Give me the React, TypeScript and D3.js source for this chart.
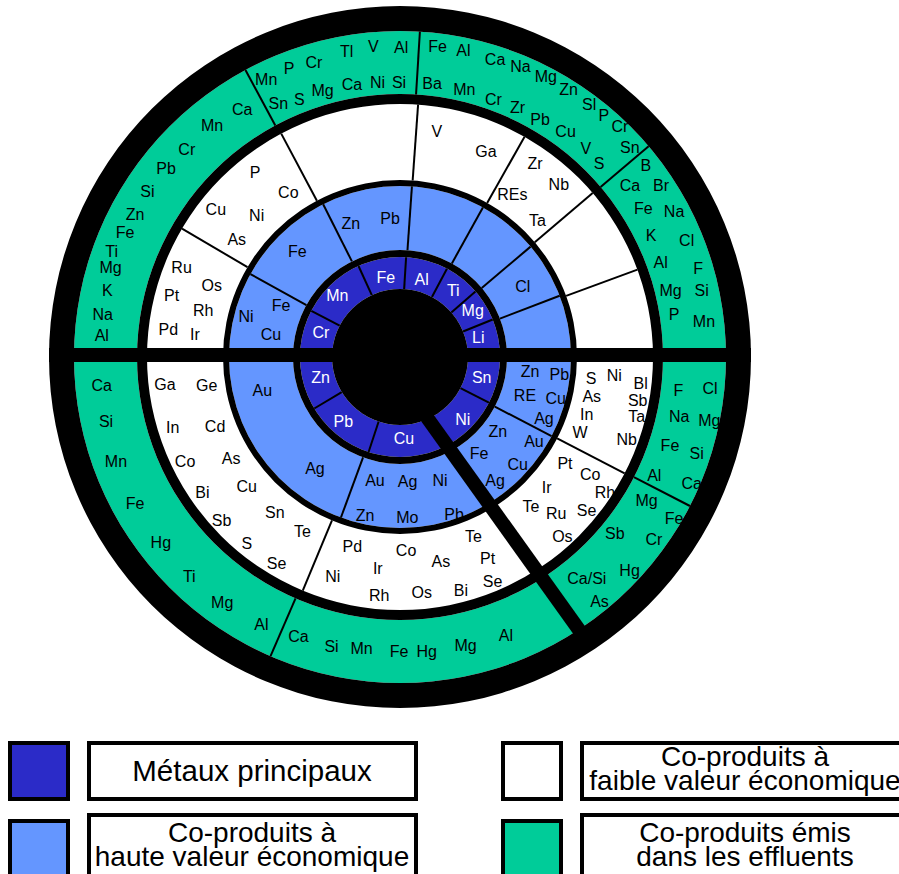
import React from 'react';
import * as d3 from 'd3';

type Lbl = [string, number, number]; // element, angle (deg, clockwise from 12 o'clock), radius

// ---- categories / legend ----
const categoryLines: string[][] = [
  ['Métaux principaux'],
  ['Co-produits à', 'haute valeur économique'],
  ['Co-produits à', 'faible valeur économique'],
  ['Co-produits émis', 'dans les effluents'],
];
const categoryColors = ['#2b2bc8', '#6496ff', '#ffffff', '#00cc99'];

// ---- ring separators (angles in degrees) ----
const principalSeparators = [297.5, 335.5, 3.5, 28, 49, 68, 117.2, 198.3, 239];
const highSeparators = [299, 333.3, 4, 29, 49.8, 69, 117.6, 200.2];
const lowSeparators = [300.5, 332, 4.1, 29.5, 49.6, 69.8, 117.4, 202.6];
const effluentSeparators = [331.7, 3.5, 49.7, 117.2, 203.4];
const mainDividers = [90, 270];
const heavyDivider: [number, number] = [156, 146.7];

// ---- labels ----
const principalLabels: Lbl[] = [
  ['Cr', 287.1, 82.7], ['Mn', 314.4, 87.7], ['Fe', 349.8, 80.6], ['Al', 15.5, 81],
  ['Ti', 38.5, 85.6], ['Mg', 57.1, 86.6], ['Li', 75.9, 80.7], ['Sn', 104.2, 84.3],
  ['Ni', 134.7, 88.2], ['Cu', 177.2, 81.4], ['Pb', 221.2, 86], ['Zn', 255.6, 81.9],
];

const highLabels: Lbl[] = [
  ['Fe', 315.9, 147.6], ['Ni', 284.7, 159.2], ['Fe', 293.6, 129.9], ['Cu', 280, 131],
  ['Zn', 339.8, 142.5], ['Pb', 355.9, 139.1], ['Cl', 60.2, 141.4],
  ['Au', 256.5, 141.6], ['Ag', 217.4, 140],
  ['Au', 191.5, 125.5], ['Ag', 176.5, 124.9], ['Ni', 162.1, 130],
  ['Zn', 192.5, 161.8], ['Mo', 177.4, 160.9], ['Pb', 161, 166],
  ['Zn', 127.1, 122.6], ['Au', 122.3, 158.5], ['Fe', 140.6, 124.6], ['Cu', 132.5, 159.7], ['Ag', 142.3, 155.4],
  ['Zn', 96.4, 130.8], ['Pb', 96.4, 160.3], ['RE', 106.9, 130.6], ['Cu', 104.9, 161.1], ['Ag', 113.1, 156.5],
];

const lowLabels: Lbl[] = [
  ['Ru', 292.2, 235.9], ['Os', 290.7, 201.2], ['Pt', 285, 236.4], ['Rh', 283.2, 202.1], ['Pd', 276.9, 233.4], ['Ir', 276.4, 206.3],
  ['Cu', 308.7, 236], ['Ni', 314.6, 201.3], ['As', 305.8, 201.3], ['Co', 325.8, 198.7], ['P', 321.8, 234.5],
  ['V', 9.3, 228.3], ['Ga', 22.7, 222.5],
  ['Zr', 34.9, 236.1], ['Nb', 42.7, 234.2], ['REs', 34.6, 197.9], ['Ta', 45.1, 194.2],
  ['S', 96.4, 192.2], ['Ni', 94.8, 215.1], ['Bl', 96.2, 242.1], ['As', 101.7, 195.8], ['Sb', 100.3, 241.6],
  ['In', 107.1, 195.3], ['Ta', 104.2, 244.1], ['W', 112.8, 195.3], ['Nb', 110, 241.2],
  ['Pt', 122.8, 196.3], ['Co', 121.8, 223.7], ['Ir', 131.6, 196.2], ['Rh', 123.5, 245.8],
  ['Te', 138.8, 198.9], ['Ru', 135, 220.8], ['Se', 129.5, 241.8], ['Os', 137.9, 242.2],
  ['Te', 157.8, 194.1], ['Pd', 194.1, 195.6], ['Co', 178.2, 193.8], ['As', 168.7, 208.8], ['Pt', 156.5, 219.6],
  ['Ir', 186, 212.5], ['Ni', 197, 229.8], ['Rh', 185, 238.9], ['Os', 174.7, 236.3], ['Bi', 165.4, 241.5], ['Se', 157.6, 243.1],
  ['Ga', 263.4, 236.6], ['Ge', 261.5, 195.5], ['In', 252.8, 237.9], ['Cd', 249.5, 197.4], ['Co', 244, 239.1],
  ['As', 239, 197], ['Bi', 235.5, 239.8], ['Cu', 229.8, 200.8], ['Sb', 227.6, 241.6], ['Sn', 218.8, 199.7],
  ['S', 219.4, 241.3], ['Te', 209.2, 200.2], ['Se', 210.9, 240.3],
];

const effluentLabels: Lbl[] = [
  ['Al', 274.1, 299], ['Na', 278.2, 300.4], ['K', 282.8, 300.1], ['Mg', 287.2, 302.9], ['Ti', 290.2, 307.2],
  ['Fe', 294.4, 302], ['Zn', 298.3, 301], ['Si', 303.3, 302.3], ['Pb', 308.9, 300.6], ['Cr', 314.3, 297.9],
  ['Mn', 320.9, 297.9], ['Ca', 327.5, 293.6],
  ['Mn', 334.3, 308.6], ['P', 339, 309.2], ['Cr', 343.7, 306.6], ['Tl', 350.1, 309.9], ['V', 355.1, 311.5], ['Al', 0.2, 310],
  ['Sn', 334.4, 281.4], ['S', 338.7, 277], ['Mg', 343.8, 277.3], ['Ca', 350, 277], ['Ni', 355.3, 275.2], ['Si', 359.8, 275],
  ['Fe', 6.9, 312.6], ['Al', 11.7, 312.8], ['Ca', 17.7, 312.8], ['Na', 22.5, 315], ['Mg', 27.5, 315.9],
  ['Zn', 32.2, 316.2], ['Sl', 36.8, 315.7], ['P', 40.2, 315.8], ['Cr', 43.6, 319], ['Sn', 47.6, 311.2],
  ['Ba', 6.7, 275.6], ['Mn', 13.5, 275.3], ['Cr', 19.9, 274.4], ['Zr', 25.2, 276], ['Pb', 30.5, 275.9],
  ['Cu', 36.3, 279.7], ['V', 41.7, 279.3], ['S', 45.8, 277.7],
  ['B', 52.1, 311.6], ['Ca', 53.3, 286.8], ['Br', 56.6, 312.6], ['Fe', 58.6, 285.1], ['Na', 62.1, 310.1],
  ['K', 64.2, 278.8], ['Cl', 67.9, 309.4], ['Al', 70, 277.4], ['F', 73.4, 311.2], ['Mg', 76.2, 278.7],
  ['Si', 77.6, 308.9], ['P', 81.1, 277.4], ['Mn', 83.4, 306],
  ['F', 96.9, 280.3], ['Cl', 95.8, 311.6], ['Na', 102.1, 285.6], ['Mg', 101.5, 315.7], ['Fe', 108.1, 284],
  ['Si', 108, 311.9], ['Al', 114.9, 280.3], ['Ca', 113.4, 317.9],
  ['Mg', 120.1, 285.1], ['Fe', 120.5, 318.2], ['Sb', 129.4, 278], ['Cr', 125.7, 312.7], ['Hg', 132.9, 313.4],
  ['Ca/Si', 139.8, 289.5], ['As', 140.8, 315.6],
  ['Ca', 200, 297], ['Si', 193.3, 297.6], ['Mn', 187.5, 293.8], ['Fe', 180.2, 294], ['Hg', 174.8, 295.2],
  ['Mg', 167.2, 296], ['Al', 159.2, 298],
  ['Ca', 264.6, 299.6], ['Si', 257.6, 301], ['Mn', 249.8, 302.7], ['Fe', 241.1, 302.7], ['Hg', 232.2, 302.7],
  ['Ti', 223.9, 303.9], ['Mg', 215.9, 303.2], ['Al', 207.4, 301],
];

// ---- layout ----
const W = 899, H = 874;
const CX = 400, CY = 357;
const R = { core: 68, p1: 100, h0: 107, h1: 171, l0: 177, l1: 253, e0: 263, e1: 326, out: 351 };
const FONT = 'Liberation Sans, Arial, sans-serif';

const angle = d3.scaleLinear().domain([0, 360]).range([0, 2 * Math.PI]);
const polar = (deg: number, r: number): [number, number] => {
  const a = angle(deg);
  return [CX + r * Math.sin(a), CY - r * Math.cos(a)];
};
const annulus = (r0: number, r1: number) =>
  d3.arc()({ innerRadius: r0, outerRadius: r1, startAngle: 0, endAngle: 2 * Math.PI } as any) as string;

function Ring({ r0, r1, fill }: { r0: number; r1: number; fill: string }) {
  return <path d={annulus(r0, r1)} transform={`translate(${CX},${CY})`} fill={fill} />;
}

function Labels({ items, color }: { items: Lbl[]; color: string }) {
  return (
    <g fontFamily={FONT} fontSize={16} fill={color} textAnchor="middle">
      {items.map(([t, a, r], i) => {
        const [x, y] = polar(a, r);
        return (
          <text key={i} x={x} y={y} dy="0.35em">
            {t}
          </text>
        );
      })}
    </g>
  );
}

function Separators({ angles, r0, r1 }: { angles: number[]; r0: number; r1: number }) {
  return (
    <g stroke="#000" strokeWidth={2}>
      {angles.map((a, i) => {
        const [x0, y0] = polar(a, r0);
        const [x1, y1] = polar(a, r1);
        return <line key={i} x1={x0} y1={y0} x2={x1} y2={y1} />;
      })}
    </g>
  );
}

export default function App() {
  const [hx0, hy0] = polar(heavyDivider[0], R.core - 2);
  const [hx1, hy1] = polar(heavyDivider[1], R.e1 + 4);
  const legendCols = [10, 503];
  const legendRows = [743, 815];
  return (
    <svg width={W} height={H} style={{ position: 'absolute', left: 0, top: 0, background: '#fff' }}>
      {/* ring fills */}
      <Ring r0={R.p1} r1={R.core} fill={categoryColors[0]} />
      <Ring r0={R.h0} r1={R.h1} fill={categoryColors[1]} />
      <Ring r0={R.l0} r1={R.l1} fill={categoryColors[2]} />
      <Ring r0={R.e0} r1={R.e1} fill={categoryColors[3]} />

      <Labels items={principalLabels} color="#fff" />
      <Labels items={highLabels} color="#000" />
      <Labels items={lowLabels} color="#000" />
      <Labels items={effluentLabels} color="#000" />

      {/* black bands */}
      <circle cx={CX} cy={CY} r={R.core} fill="#000" />
      <Ring r0={R.p1} r1={R.h0} fill="#000" />
      <Ring r0={R.h1} r1={R.l0} fill="#000" />
      <Ring r0={R.l1} r1={R.e0} fill="#000" />
      <Ring r0={R.e1} r1={R.out} fill="#000" />

      <Separators angles={principalSeparators} r0={R.core} r1={R.p1} />
      <Separators angles={highSeparators} r0={R.h0} r1={R.h1} />
      <Separators angles={lowSeparators} r0={R.l0} r1={R.l1} />
      <Separators angles={effluentSeparators} r0={R.e0} r1={R.e1} />

      {/* horizontal divider */}
      {(() => {
        const [x0] = polar(mainDividers[1], R.out);
        const [x1] = polar(mainDividers[0], R.out);
        return <rect x={x0} y={CY - 9} width={x1 - x0} height={14} fill="#000" />;
      })()}
      <line x1={hx0} y1={hy0} x2={hx1} y2={hy1} stroke="#000" strokeWidth={14} />

      {/* legend */}
      {categoryLines.map((lines, i) => {
        const col = Math.floor(i / 2);
        const row = i % 2;
        const bx = legendCols[col];
        const by = legendRows[row];
        const sqY = row === 0 ? by : by + 6;
        const tbH = row === 0 ? 56 : 64;
        const cxText = bx + 58 + 21 + 163;
        return (
          <g key={i}>
            <rect x={bx} y={sqY} width={58} height={56} fill={categoryColors[i]} stroke="#000" strokeWidth={4} />
            <rect x={bx + 79} y={by} width={327} height={tbH} fill="#fff" stroke="#000" strokeWidth={4} />
            <g fontFamily={FONT} textAnchor="middle" fill="#000">
              {lines.length === 1 ? (
                <text x={cxText} y={by + 38} fontSize={29.5}>{lines[0]}</text>
              ) : (
                lines.map((l, j) => (
                  <text key={j} x={cxText} y={(row === 0 ? by + 23 : by + 27) + j * 24} fontSize={28}>
                    {l}
                  </text>
                ))
              )}
            </g>
          </g>
        );
      })}
    </svg>
  );
}
